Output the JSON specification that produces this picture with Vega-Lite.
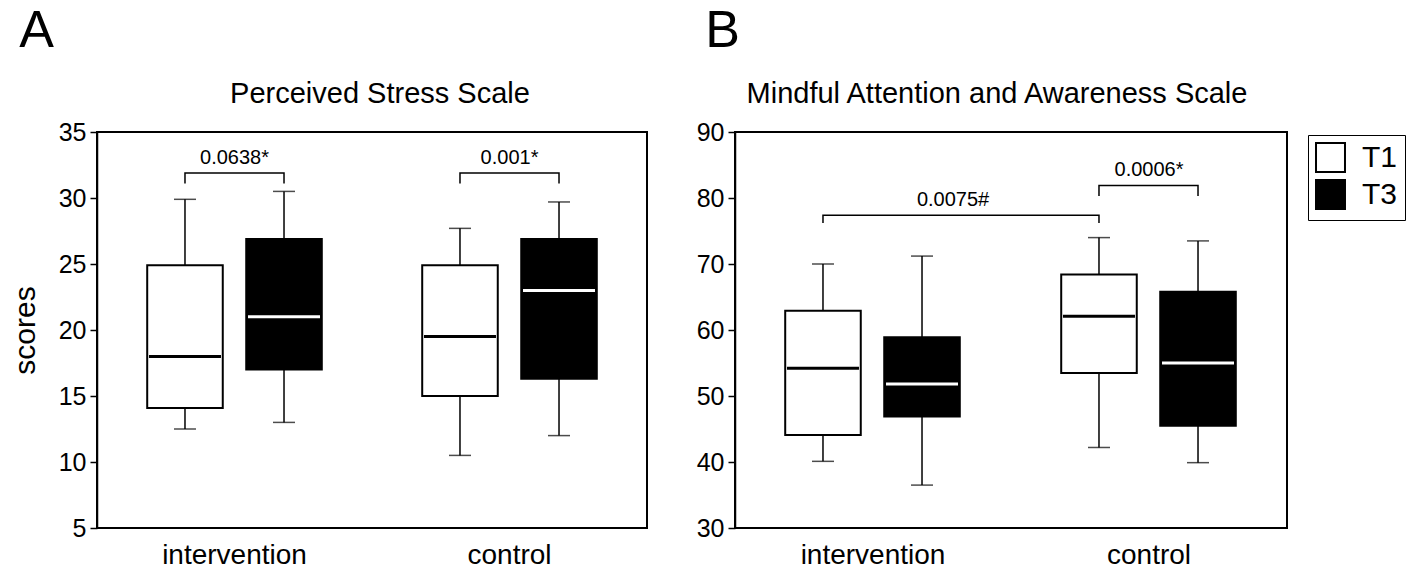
{
  "$schema": "https://vega.github.io/schema/vega-lite/v6.json",
  "padding": {"left": 9, "right": 2, "top": 5, "bottom": 0},
  "background": "white",
  "datasets": {
    "boxes": [
      {"panel": "A", "group": "intervention", "time": "T1", "min": 12.5, "q1": 14.1, "median": 18.0, "q3": 24.9, "max": 29.9},
      {"panel": "A", "group": "intervention", "time": "T3", "min": 13.0, "q1": 17.0, "median": 21.0, "q3": 26.9, "max": 30.5},
      {"panel": "A", "group": "control", "time": "T1", "min": 10.5, "q1": 15.0, "median": 19.5, "q3": 24.9, "max": 27.7},
      {"panel": "A", "group": "control", "time": "T3", "min": 12.0, "q1": 16.3, "median": 23.0, "q3": 26.9, "max": 29.7},
      {"panel": "B", "group": "intervention", "time": "T1", "min": 40.1, "q1": 44.1, "median": 54.2, "q3": 62.9, "max": 70.0},
      {"panel": "B", "group": "intervention", "time": "T3", "min": 36.5, "q1": 46.9, "median": 51.8, "q3": 58.9, "max": 71.2},
      {"panel": "B", "group": "control", "time": "T1", "min": 42.2, "q1": 53.5, "median": 62.1, "q3": 68.4, "max": 74.0},
      {"panel": "B", "group": "control", "time": "T3", "min": 39.9, "q1": 45.5, "median": 55.0, "q3": 65.8, "max": 73.5}
    ],
    "brackets": [
      {"panel": "A", "id": "a1", "k": 1, "group": "intervention", "time": "T1", "value": 31.1},
      {"panel": "A", "id": "a1", "k": 2, "group": "intervention", "time": "T1", "value": 31.9},
      {"panel": "A", "id": "a1", "k": 3, "group": "intervention", "time": "T3", "value": 31.9},
      {"panel": "A", "id": "a1", "k": 4, "group": "intervention", "time": "T3", "value": 31.1},
      {"panel": "A", "id": "a2", "k": 1, "group": "control", "time": "T1", "value": 31.1},
      {"panel": "A", "id": "a2", "k": 2, "group": "control", "time": "T1", "value": 31.9},
      {"panel": "A", "id": "a2", "k": 3, "group": "control", "time": "T3", "value": 31.9},
      {"panel": "A", "id": "a2", "k": 4, "group": "control", "time": "T3", "value": 31.1},
      {"panel": "B", "id": "b1", "k": 1, "group": "intervention", "time": "T1", "value": 76.2},
      {"panel": "B", "id": "b1", "k": 2, "group": "intervention", "time": "T1", "value": 77.4},
      {"panel": "B", "id": "b1", "k": 3, "group": "control", "time": "T1", "value": 77.4},
      {"panel": "B", "id": "b1", "k": 4, "group": "control", "time": "T1", "value": 76.2},
      {"panel": "B", "id": "b2", "k": 1, "group": "control", "time": "T1", "value": 80.3},
      {"panel": "B", "id": "b2", "k": 2, "group": "control", "time": "T1", "value": 81.9},
      {"panel": "B", "id": "b2", "k": 3, "group": "control", "time": "T3", "value": 81.9},
      {"panel": "B", "id": "b2", "k": 4, "group": "control", "time": "T3", "value": 80.3}
    ],
    "labels": [
      {"panel": "A", "kind": "within", "group": "intervention", "label": "0.0638*", "value": 31.9},
      {"panel": "A", "kind": "within", "group": "control", "label": "0.001*", "value": 31.9},
      {"panel": "B", "kind": "within", "group": "control", "label": "0.0006*", "value": 81.9},
      {"panel": "B", "kind": "across", "group": "intervention", "label": "0.0075#", "value": 77.4}
    ]
  },
  "config": {
    "font": "Liberation Sans",
    "view": {"stroke": "black", "strokeWidth": 2},
    "axis": {"labelColor": "black", "domainColor": "black", "tickColor": "black", "grid": false, "labelFont": "Liberation Sans", "titleFont": "Liberation Sans", "titleColor": "black"},
    "title": {"font": "Liberation Sans", "color": "black", "fontWeight": "normal"},
    "concat": {"spacing": 47}
  },
  "resolve": {"scale": {"fill": "independent", "color": "independent", "y": "independent"}, "legend": {"fill": "independent"}},
  "hconcat": [
    {
      "title": {"text": "A", "fontSize": 52, "anchor": "start", "dx": 10, "offset": 21},
      "resolve": {"scale": {"fill": "independent", "color": "independent"}, "legend": {"fill": "independent"}},
      "vconcat": [
        {
          "title": {"text": "Perceived Stress Scale", "fontSize": 29, "anchor": "middle", "offset": 11, "dx": 8},
          "width": 550,
          "height": 396,
          "layer": [
            {
              "data": {"name": "boxes"},
              "transform": [{"filter": "datum.panel === 'A'"}],
              "mark": {"type": "rule", "color": "black", "strokeWidth": 1.5},
              "encoding": {
                "x": {"field": "group", "type": "nominal", "sort": ["intervention", "control"], "scale": {"paddingInner": 0, "paddingOuter": 0}, "axis": {"title": null, "labelAngle": 0, "ticks": false, "domain": false, "labelFontSize": 28, "labelPadding": 13}},
                "xOffset": {"field": "time", "type": "nominal", "sort": ["T1", "T3"], "scale": {"paddingInner": 0.237, "paddingOuter": 0.507}},
                "y": {"field": "min", "type": "quantitative", "scale": {"domain": [5, 35], "nice": false, "zero": false}, "axis": {"values": [5, 10, 15, 20, 25, 30, 35], "title": "scores", "titleFontSize": 30, "titleFontWeight": "normal", "labelFontSize": 25, "tickSize": 7, "tickWidth": 1.5, "domainWidth": 1.5, "labelPadding": 4, "titlePadding": 18}},
                "y2": {"field": "max"}
              }
            },
            {
              "data": {"name": "boxes"},
              "transform": [{"filter": "datum.panel === 'A'"}],
              "mark": {"type": "tick", "color": "black", "size": 22, "thickness": 1.5},
              "encoding": {
                "x": {"field": "group", "type": "nominal", "sort": ["intervention", "control"]},
                "xOffset": {"field": "time", "type": "nominal", "sort": ["T1", "T3"]},
                "y": {"field": "min", "type": "quantitative"}
              }
            },
            {
              "data": {"name": "boxes"},
              "transform": [{"filter": "datum.panel === 'A'"}],
              "mark": {"type": "tick", "color": "black", "size": 22, "thickness": 1.5},
              "encoding": {
                "x": {"field": "group", "type": "nominal", "sort": ["intervention", "control"]},
                "xOffset": {"field": "time", "type": "nominal", "sort": ["T1", "T3"]},
                "y": {"field": "max", "type": "quantitative"}
              }
            },
            {
              "data": {"name": "boxes"},
              "transform": [{"filter": "datum.panel === 'A'"}],
              "mark": {"type": "bar", "stroke": "black", "strokeWidth": 2},
              "encoding": {
                "x": {"field": "group", "type": "nominal", "sort": ["intervention", "control"]},
                "xOffset": {"field": "time", "type": "nominal", "sort": ["T1", "T3"]},
                "y": {"field": "q1", "type": "quantitative"},
                "y2": {"field": "q3"},
                "fill": {"field": "time", "type": "nominal", "scale": {"domain": ["T1", "T3"], "range": ["white", "black"]}, "legend": null}
              }
            },
            {
              "data": {"name": "boxes"},
              "transform": [{"filter": "datum.panel === 'A'"}],
              "mark": {"type": "tick", "size": 72, "thickness": 3, "opacity": 1},
              "encoding": {
                "x": {"field": "group", "type": "nominal", "sort": ["intervention", "control"]},
                "xOffset": {"field": "time", "type": "nominal", "sort": ["T1", "T3"]},
                "y": {"field": "median", "type": "quantitative"},
                "color": {"field": "time", "type": "nominal", "scale": {"domain": ["T1", "T3"], "range": ["black", "white"]}, "legend": null}
              }
            },
            {
              "data": {"name": "brackets"},
              "transform": [{"filter": "datum.panel === 'A'"}],
              "mark": {"type": "line", "color": "black", "strokeWidth": 1.5},
              "encoding": {
                "x": {"field": "group", "type": "nominal", "sort": ["intervention", "control"]},
                "xOffset": {"field": "time", "type": "nominal", "sort": ["T1", "T3"]},
                "y": {"field": "value", "type": "quantitative"},
                "detail": {"field": "id"},
                "order": {"field": "k", "type": "quantitative"}
              }
            },
            {
              "data": {"name": "labels"},
              "transform": [{"filter": "datum.panel === 'A'"}],
              "mark": {"type": "text", "fontSize": 20, "baseline": "alphabetic", "dy": -9, "color": "black", "font": "Liberation Sans"},
              "encoding": {
                "x": {"field": "group", "type": "nominal", "sort": ["intervention", "control"]},
                "y": {"field": "value", "type": "quantitative"},
                "text": {"field": "label"}
              }
            }
          ]
        }
      ]
    },
    {
      "title": {"text": "B", "fontSize": 52, "anchor": "start", "dx": 10, "offset": 21},
      "resolve": {"scale": {"fill": "independent", "color": "independent"}, "legend": {"fill": "independent"}},
      "vconcat": [
        {
          "title": {"text": "Mindful Attention and Awareness Scale", "fontSize": 29, "anchor": "middle", "offset": 11, "dx": -14},
          "width": 552,
          "height": 396,
          "layer": [
            {
              "data": {"name": "boxes"},
              "transform": [{"filter": "datum.panel === 'B'"}],
              "mark": {"type": "rule", "color": "black", "strokeWidth": 1.5},
              "encoding": {
                "x": {"field": "group", "type": "nominal", "sort": ["intervention", "control"], "scale": {"paddingInner": 0, "paddingOuter": 0}, "axis": {"title": null, "labelAngle": 0, "ticks": false, "domain": false, "labelFontSize": 28, "labelPadding": 13}},
                "xOffset": {"field": "time", "type": "nominal", "sort": ["T1", "T3"], "scale": {"paddingInner": 0.237, "paddingOuter": 0.507}},
                "y": {"field": "min", "type": "quantitative", "scale": {"domain": [30, 90], "nice": false, "zero": false}, "axis": {"values": [30, 40, 50, 60, 70, 80, 90], "title": null, "labelFontSize": 25, "tickSize": 7, "tickWidth": 1.5, "domainWidth": 1.5, "labelPadding": 4}},
                "y2": {"field": "max"}
              }
            },
            {
              "data": {"name": "boxes"},
              "transform": [{"filter": "datum.panel === 'B'"}],
              "mark": {"type": "tick", "color": "black", "size": 22, "thickness": 1.5},
              "encoding": {
                "x": {"field": "group", "type": "nominal", "sort": ["intervention", "control"]},
                "xOffset": {"field": "time", "type": "nominal", "sort": ["T1", "T3"]},
                "y": {"field": "min", "type": "quantitative"}
              }
            },
            {
              "data": {"name": "boxes"},
              "transform": [{"filter": "datum.panel === 'B'"}],
              "mark": {"type": "tick", "color": "black", "size": 22, "thickness": 1.5},
              "encoding": {
                "x": {"field": "group", "type": "nominal", "sort": ["intervention", "control"]},
                "xOffset": {"field": "time", "type": "nominal", "sort": ["T1", "T3"]},
                "y": {"field": "max", "type": "quantitative"}
              }
            },
            {
              "data": {"name": "boxes"},
              "transform": [{"filter": "datum.panel === 'B'"}],
              "mark": {"type": "bar", "stroke": "black", "strokeWidth": 2},
              "encoding": {
                "x": {"field": "group", "type": "nominal", "sort": ["intervention", "control"]},
                "xOffset": {"field": "time", "type": "nominal", "sort": ["T1", "T3"]},
                "y": {"field": "q1", "type": "quantitative"},
                "y2": {"field": "q3"},
                "fill": {"field": "time", "type": "nominal", "scale": {"domain": ["T1", "T3"], "range": ["white", "black"]}, "legend": {"title": null, "orient": "none", "legendX": 573, "legendY": 3, "symbolType": "square", "symbolSize": 840, "symbolStrokeColor": "black", "symbolStrokeWidth": 2, "symbolOpacity": 1, "labelFontSize": 30, "labelFont": "Liberation Sans", "labelColor": "black", "labelOffset": 16, "strokeColor": "black", "fillColor": "white", "padding": 7, "rowPadding": 0}}
              }
            },
            {
              "data": {"name": "boxes"},
              "transform": [{"filter": "datum.panel === 'B'"}],
              "mark": {"type": "tick", "size": 72, "thickness": 3, "opacity": 1},
              "encoding": {
                "x": {"field": "group", "type": "nominal", "sort": ["intervention", "control"]},
                "xOffset": {"field": "time", "type": "nominal", "sort": ["T1", "T3"]},
                "y": {"field": "median", "type": "quantitative"},
                "color": {"field": "time", "type": "nominal", "scale": {"domain": ["T1", "T3"], "range": ["black", "white"]}, "legend": null}
              }
            },
            {
              "data": {"name": "brackets"},
              "transform": [{"filter": "datum.panel === 'B'"}],
              "mark": {"type": "line", "color": "black", "strokeWidth": 1.5},
              "encoding": {
                "x": {"field": "group", "type": "nominal", "sort": ["intervention", "control"]},
                "xOffset": {"field": "time", "type": "nominal", "sort": ["T1", "T3"]},
                "y": {"field": "value", "type": "quantitative"},
                "detail": {"field": "id"},
                "order": {"field": "k", "type": "quantitative"}
              }
            },
            {
              "data": {"name": "labels"},
              "transform": [{"filter": "datum.panel === 'B' && datum.kind === 'within'"}],
              "mark": {"type": "text", "fontSize": 20, "baseline": "alphabetic", "dy": -9, "color": "black", "font": "Liberation Sans"},
              "encoding": {
                "x": {"field": "group", "type": "nominal", "sort": ["intervention", "control"]},
                "y": {"field": "value", "type": "quantitative"},
                "text": {"field": "label"}
              }
            },
            {
              "data": {"name": "labels"},
              "transform": [{"filter": "datum.panel === 'B' && datum.kind === 'across'"}],
              "mark": {"type": "text", "fontSize": 20, "baseline": "alphabetic", "dy": -9, "color": "black", "font": "Liberation Sans"},
              "encoding": {
                "x": {"field": "group", "type": "nominal", "sort": ["intervention", "control"], "bandPosition": 0.79},
                "y": {"field": "value", "type": "quantitative"},
                "text": {"field": "label"}
              }
            }
          ]
        }
      ]
    }
  ]
}
